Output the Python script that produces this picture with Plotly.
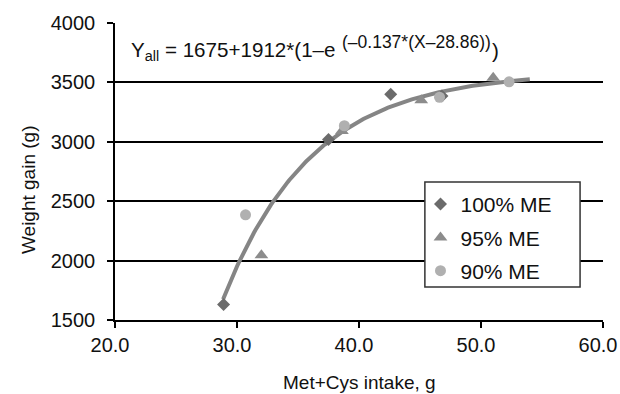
import numpy as np
import plotly.graph_objects as go

# Met+Cys intake (g) and weight gain (g) by dietary energy level
x_me100 = [28.9, 37.5, 42.6, 46.8]
y_me100 = [1630, 3020, 3400, 3385]
x_me95 = [32.0, 38.6, 45.1, 51.0]
y_me95 = [2045, 3090, 3350, 3540]
x_me90 = [30.7, 38.8, 46.6, 52.3]
y_me90 = [2385, 3135, 3375, 3505]

# Fitted exponential model parameters
a, b, c, x0 = 1675, 1912, 0.137, 28.86
x_fit_start, x_fit_end = 28.86, 54.0

x_ticks = [20, 30, 40, 50, 60]
y_ticks = [1500, 2000, 2500, 3000, 3500, 4000]

xf = np.linspace(x_fit_start, x_fit_end, 200)
yf = a + b * (1 - np.exp(-c * (xf - x0)))

FONT = "Liberation Sans, Arial, sans-serif"

fig = go.Figure()
fig.add_trace(go.Scatter(x=xf, y=yf, mode="lines",
                         line=dict(color="#858585", width=4),
                         showlegend=False, hoverinfo="skip"))
fig.add_trace(go.Scatter(x=x_me100, y=y_me100, mode="markers", name="100% ME",
                         legendgroup="g1",
                         marker=dict(symbol="diamond", size=10, color="#6b6b6b")))
fig.add_trace(go.Scatter(x=x_me95, y=y_me95, mode="markers", name="95% ME",
                         legendgroup="g2",
                         marker=dict(symbol="triangle-up", size=12, color="#8c8c8c")))
fig.add_trace(go.Scatter(x=x_me90, y=y_me90, mode="markers", name="90% ME",
                         legendgroup="g3",
                         marker=dict(symbol="circle", size=11, color="#b0b0b0")))

# Model equation, set as base text + exponent + closing bracket
eq_base = "Y<sub>all</sub> = 1675+1912*(1\u2013e"
eq_exp = "(\u20130.137*(X\u201328.86))"
eq_close = ")"

fig.update_layout(
    width=620, height=394,
    margin=dict(l=115, r=17, t=23, b=74, autoexpand=False),
    paper_bgcolor="white", plot_bgcolor="white",
    font=dict(family=FONT, size=20, color="#111"),
    showlegend=True,
    legend=dict(x=0.626, y=0.458, xanchor="left", yanchor="top",
                borderwidth=0, bgcolor="rgba(0,0,0,0)",
                font=dict(size=21), tracegroupgap=3, itemsizing="trace"),
    xaxis=dict(range=[20, 60], tickvals=x_ticks,
               ticktext=[f"{v:.1f}" for v in x_ticks], automargin=False,
               showgrid=False, zeroline=False, ticklabeloverflow="allow",
               ticklabelshift=-5,
               showline=True, linecolor="black", linewidth=1.5,
               ticks="outside", ticklen=6, tickwidth=1.5, tickcolor="black"),
    yaxis=dict(range=[1500, 4000], tickvals=y_ticks, automargin=False,
               showgrid=True, gridcolor="black", gridwidth=1.5, zeroline=False,
               showline=True, linecolor="black", linewidth=1.5,
               ticklabelstandoff=8,
               ticks="outside", ticklen=6, tickwidth=1.5, tickcolor="black"),
    shapes=[
        # legend frame
        dict(type="rect", xref="paper", yref="paper",
             x0=0.635, x1=0.953, y0=0.111, y1=0.465,
             line=dict(color="#333", width=1.5), fillcolor="white", layer="above"),
    ],
    annotations=[
        dict(text=eq_base, x=0.029, y=0.906, xref="paper", yref="paper",
             xanchor="left", yanchor="middle", showarrow=False,
             font=dict(size=20.6)),
        dict(text=eq_exp, x=0.461, y=0.935, xref="paper", yref="paper",
             xanchor="left", yanchor="middle", showarrow=False,
             font=dict(size=17.5)),
        dict(text=eq_close, x=0.769, y=0.906, xref="paper", yref="paper",
             xanchor="left", yanchor="middle", showarrow=False,
             font=dict(size=20.6)),
        dict(text="Met+Cys intake, g", x=0.502, y=-0.212, xref="paper", yref="paper",
             xanchor="center", yanchor="middle", showarrow=False, font=dict(size=19)),
        dict(text="Weight gain (g)", x=-0.176, y=0.438, xref="paper", yref="paper",
             xanchor="center", yanchor="middle", showarrow=False, textangle=-90,
             font=dict(size=19)),
    ],
)

fig.write_html("out.html")
